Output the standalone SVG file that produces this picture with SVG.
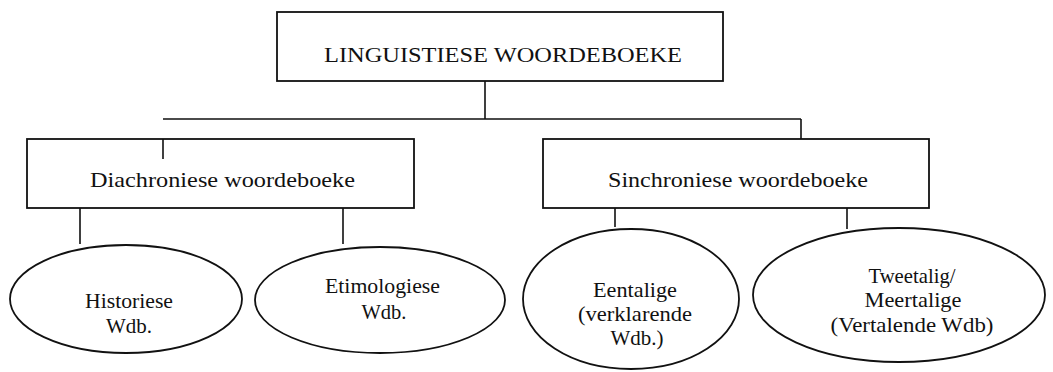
<svg xmlns="http://www.w3.org/2000/svg" width="1053" height="372" viewBox="0 0 1053 372">
<style>
.box{fill:#fff;stroke:#111;stroke-width:1.8}
.ell{fill:#fff;stroke:#111;stroke-width:1.8}
.con{fill:none;stroke:#111;stroke-width:1.6}
text{font-family:"Liberation Serif","Times New Roman",serif;font-size:22px;fill:#111;text-anchor:middle}
</style>
<rect width="1053" height="372" fill="#fff"/>
<g id="connectors">
<path class="con" d="M485 81V119M163 119H801M801 119V139M80 208V244M343 208V244M615 208V227M847 208V229"/>
</g>
<g id="n-root">
<rect class="box" x="277" y="12" width="446" height="69"/>
<text x="503" y="62" textLength="358" lengthAdjust="spacingAndGlyphs">LINGUISTIESE WOORDEBOEKE</text>
</g>
<g id="n-diachron">
<rect class="box" x="27" y="139" width="387" height="69"/>
<path class="con" d="M163 139V159"/>
<text x="222.5" y="187" textLength="265" lengthAdjust="spacingAndGlyphs">Diachroniese woordeboeke</text>
</g>
<g id="n-sinchron">
<rect class="box" x="543" y="139" width="386" height="69"/>
<text x="738" y="187" textLength="260" lengthAdjust="spacingAndGlyphs">Sinchroniese woordeboeke</text>
</g>
<g id="n-historiese">
<ellipse class="ell" cx="126" cy="299" rx="116" ry="54"/>
<text x="129" y="308" textLength="88" lengthAdjust="spacingAndGlyphs">Historiese</text>
<text x="129" y="333" textLength="46" lengthAdjust="spacingAndGlyphs">Wdb.</text>
</g>
<g id="n-etimologiese">
<ellipse class="ell" cx="380" cy="300" rx="125" ry="53"/>
<text x="382.5" y="293" textLength="115" lengthAdjust="spacingAndGlyphs">Etimologiese</text>
<text x="384" y="319" textLength="45" lengthAdjust="spacingAndGlyphs">Wdb.</text>
</g>
<g id="n-eentalige">
<ellipse class="ell" cx="631" cy="299" rx="108" ry="70"/>
<text x="635" y="297" textLength="84" lengthAdjust="spacingAndGlyphs">Eentalige</text>
<text x="635" y="321" textLength="114" lengthAdjust="spacingAndGlyphs">(verklarende</text>
<text x="637" y="345" textLength="53" lengthAdjust="spacingAndGlyphs">Wdb.)</text>
</g>
<g id="n-tweetalig">
<ellipse class="ell" cx="899" cy="295" rx="146" ry="67"/>
<text x="912" y="283" textLength="87" lengthAdjust="spacingAndGlyphs">Tweetalig/</text>
<text x="913" y="307" textLength="97" lengthAdjust="spacingAndGlyphs">Meertalige</text>
<text x="912" y="332" textLength="163" lengthAdjust="spacingAndGlyphs">(Vertalende Wdb)</text>
</g>
</svg>
